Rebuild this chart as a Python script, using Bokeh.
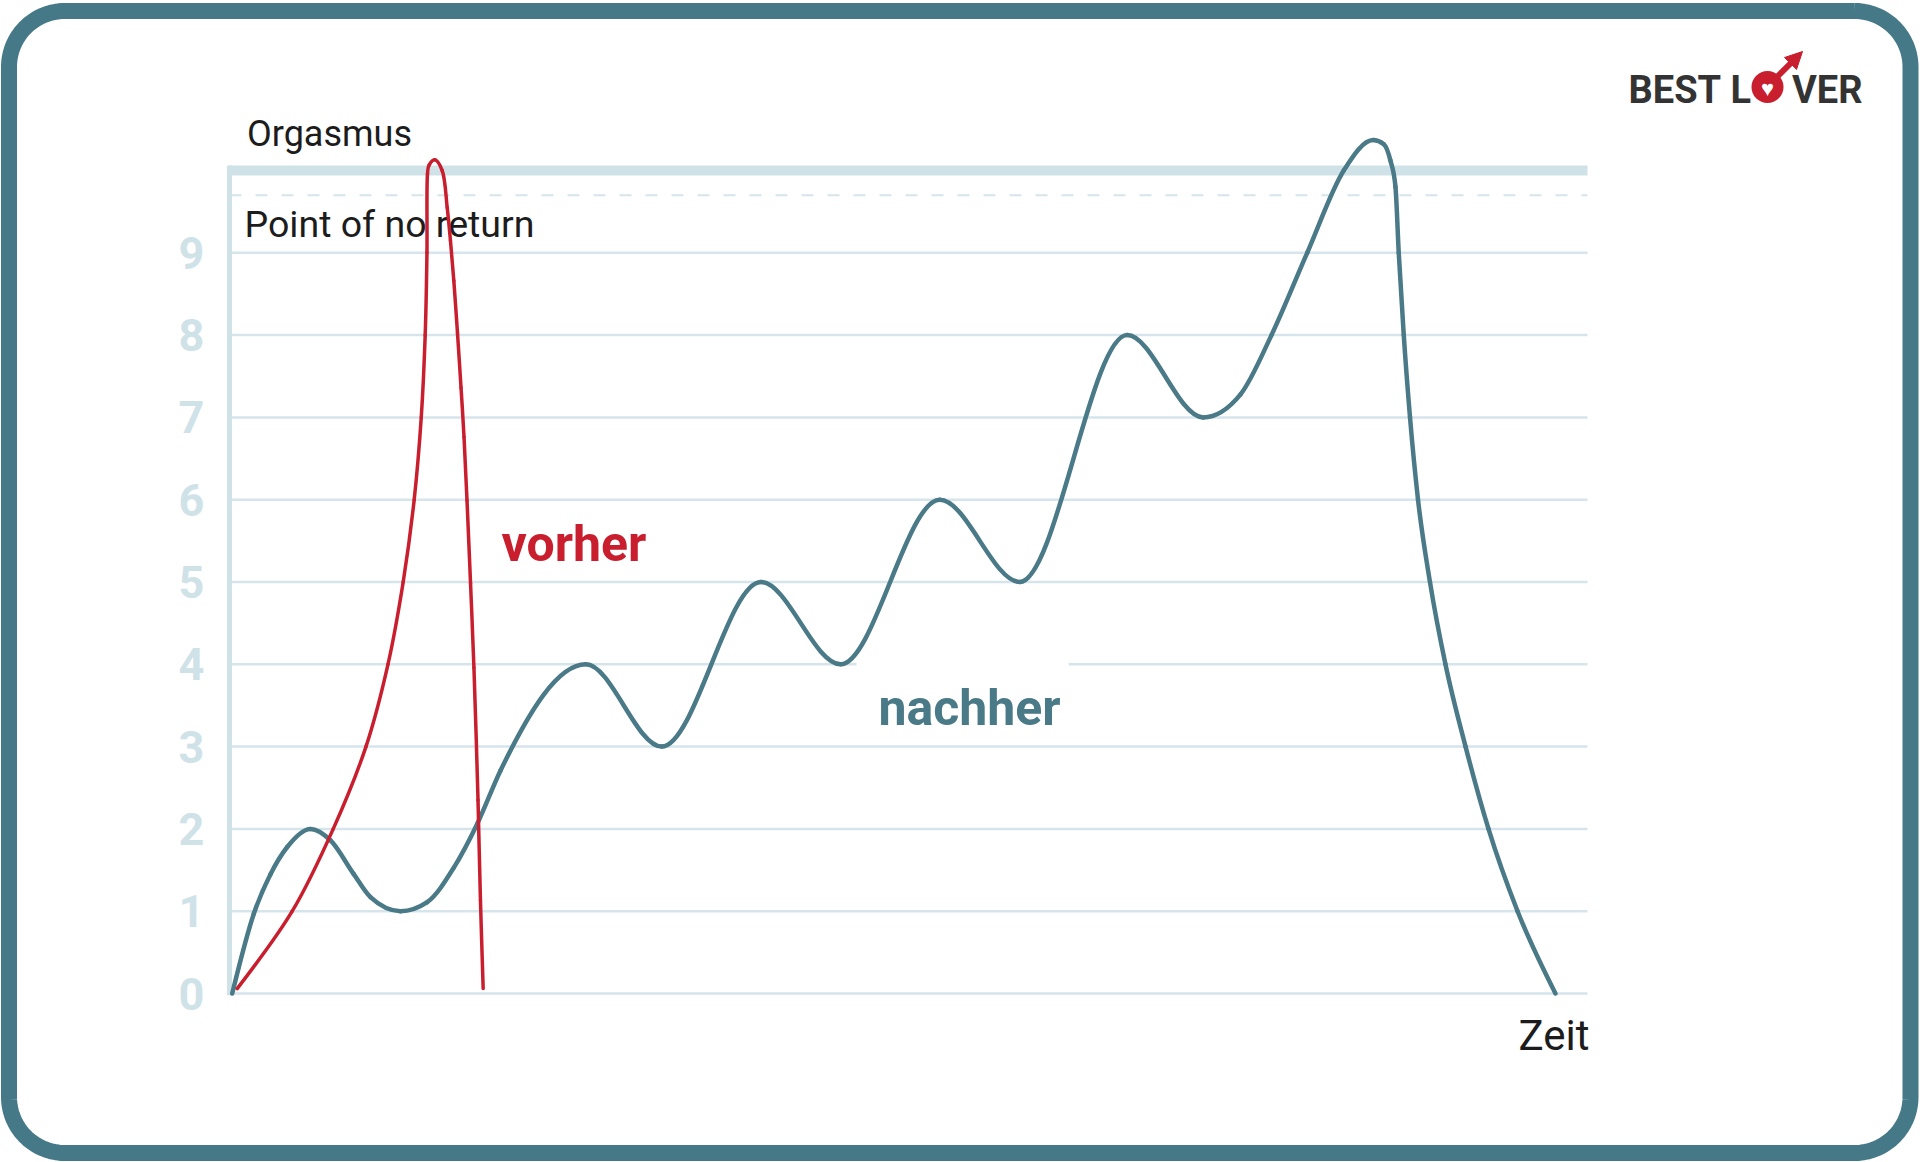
import numpy as np
from bokeh.plotting import figure
from bokeh.models import Range1d, Label, ColumnDataSource, Arrow, NormalHead
from bokeh.core.properties import value
from bokeh.embed import file_html
from bokeh.resources import INLINE

# ---------------- data ----------------
y_ticks = [0, 1, 2, 3, 4, 5, 6, 7, 8, 9]
y_tick_labels = [str(v) for v in y_ticks]
orgasmus_level = 10.0
point_of_no_return_level = 9.7
zeit_max = 100.0

# "nachher" (after) curve: time (0..100) vs arousal
nachher_x = [0.2, 1.79, 3.02, 4.25, 5.96, 7.44, 9.15, 10.38, 12.59, 14.56, 16.52, 18.24, 19.96,
             26.24, 31.83, 39.13, 45.0, 52.3, 58.2, 66.1, 71.7,
             74.45, 76.73, 79.36, 82.05, 84.22,
             85.0, 85.49, 85.86, 86.1, 86.47, 86.93, 87.52, 88.4, 89.54, 91.02, 92.71, 94.85, 97.64]
nachher_y = [0.0, 0.97, 1.45, 1.78, 2.0, 1.86, 1.45, 1.17, 1.0, 1.11, 1.53, 2.06, 2.71,
             4.0, 3.0, 5.0, 4.0, 6.0, 5.0, 8.0, 7.0,
             7.28, 8.0, 9.0, 10.0, 10.37,
             10.32, 10.12, 9.8, 9.0, 8.0, 7.0, 6.0, 5.0, 4.0, 3.0, 2.0, 1.0, 0.0]

# "vorher" (before) curve
vorher_x = [0.57, 4.62, 7.64, 10.05, 11.67, 12.79, 13.6, 14.12, 14.41, 14.54, 14.58,
            14.68, 15.12, 15.66, 16.03, 16.27, 16.52, 16.79, 17.05, 17.27, 17.49, 17.75, 18.0,
            18.3, 18.48, 18.68]
vorher_y = [0.06, 1.0, 2.0, 3.0, 4.0, 5.0, 6.0, 7.0, 8.0, 9.0, 9.96,
            10.06, 10.13, 10.0, 9.55, 9.15, 8.66, 8.02, 7.36, 6.76, 5.99, 4.98, 3.96,
            2.35, 1.13, 0.06]

# ---------------- styling / layout ----------------
W, H = 1920, 1162
PX_PER_X = 13.58
PX_PER_Y = 82.3
X0_PAGE, Y0_PAGE = 229, 993
BASELINE_SHIFT = 0.36   # label placement correction (fraction of font size)

TEAL = "#4a7987"
BORDER = "#467988"
RED = "#c81e2d"
GRID = "#d5e5eb"
AXIS = "#cfe2e8"
TEXT = "#1c1c1c"
LOGO = "#333333"
FONT = "Roboto"


def dx(page_x):
    return (page_x - X0_PAGE) / PX_PER_X


def dy(page_y):
    return (Y0_PAGE - page_y) / PX_PER_Y


def monotone_bezier(xs, ys):
    xs = np.asarray(xs, float)
    ys = np.asarray(ys, float)
    h = np.diff(xs)
    s = np.diff(ys) / h
    m = np.zeros(len(xs))
    for i in range(1, len(xs) - 1):
        pp = (s[i - 1] * h[i] + s[i] * h[i - 1]) / (h[i - 1] + h[i])
        m[i] = (np.sign(s[i - 1]) + np.sign(s[i])) * min(abs(s[i - 1]), abs(s[i]), 0.5 * abs(pp))
    m[0] = (3 * s[0] - m[1]) / 2
    m[-1] = (3 * s[-1] - m[-2]) / 2
    d = h / 3
    return dict(x0=xs[:-1], y0=ys[:-1], x1=xs[1:], y1=ys[1:],
                cx0=xs[:-1] + d, cy0=ys[:-1] + d * m[:-1],
                cx1=xs[1:] - d, cy1=ys[1:] - d * m[1:])


def catmull_bezier(xs, ys, sx, sy, alpha=0.5):
    P = np.column_stack([np.asarray(xs, float) * sx, np.asarray(ys, float) * sy])
    E = np.vstack([P[0], P, P[-1]])
    out = {k: [] for k in ("x0", "y0", "x1", "y1", "cx0", "cy0", "cx1", "cy1")}
    for i in range(len(P) - 1):
        p0, p1, p2, p3 = E[i], E[i + 1], E[i + 2], E[i + 3]
        l01 = np.hypot(*(p1 - p0))
        l12 = np.hypot(*(p2 - p1))
        l23 = np.hypot(*(p3 - p2))
        a01, a12, a23 = l01 ** alpha, l12 ** alpha, l23 ** alpha
        c1 = p1.copy()
        c2 = p2.copy()
        if l01 > 1e-9:
            a = 2 * a01 ** 2 + 3 * a01 * a12 + a12 ** 2
            n = 3 * a01 * (a01 + a12)
            c1 = (p1 * a - p0 * a12 ** 2 + p2 * a01 ** 2) / n
        if l23 > 1e-9:
            b = 2 * a23 ** 2 + 3 * a23 * a12 + a12 ** 2
            mm = 3 * a23 * (a23 + a12)
            c2 = (p2 * b + p1 * a23 ** 2 - p3 * a12 ** 2) / mm
        out["x0"].append(p1[0] / sx); out["y0"].append(p1[1] / sy)
        out["x1"].append(p2[0] / sx); out["y1"].append(p2[1] / sy)
        out["cx0"].append(c1[0] / sx); out["cy0"].append(c1[1] / sy)
        out["cx1"].append(c2[0] / sx); out["cy1"].append(c2[1] / sy)
    return out


p = figure(width=W, height=H,
           x_range=Range1d(dx(0), dx(W)), y_range=Range1d(dy(H), dy(0)),
           output_backend="svg", toolbar_location=None,
           x_axis_location=None, y_axis_location=None, min_border=0)
p.outline_line_color = None
p.background_fill_color = "white"
p.border_fill_color = "white"
p.grid.visible = False

# frame border (rounded rectangle)
def rounded_rect(l, t, r, b, rad, n=30):
    xs, ys = [], []
    for cx, cy, a0, a1 in [(r - rad, t + rad, -90, 0), (r - rad, b - rad, 0, 90),
                           (l + rad, b - rad, 90, 180), (l + rad, t + rad, 180, 270)]:
        th = np.radians(np.linspace(a0, a1, n))
        xs.extend(cx + rad * np.cos(th))
        ys.extend(cy + rad * np.sin(th))
    xs.append(xs[0]); ys.append(ys[0])
    return [dx(v) for v in xs], [dy(v) for v in ys]

bx, by = rounded_rect(8.5, 10.5, 1910, 1152.5, 56)
p.line(bx, by, line_color=BORDER, line_width=16, line_join="round")

# grid lines
grid_src = ColumnDataSource(dict(y=y_ticks, label=y_tick_labels))
p.segment(x0=0, x1=zeit_max, y0="y", y1="y", source=grid_src,
          line_color=GRID, line_width=2.5, level="image")
p.segment(x0=[0], x1=[zeit_max], y0=[point_of_no_return_level], y1=[point_of_no_return_level],
          line_color=GRID, line_width=2, line_dash="12 14", level="image")
p.segment(x0=[0], x1=[zeit_max], y0=[orgasmus_level], y1=[orgasmus_level],
          line_color=AXIS, line_width=10, level="image")
p.segment(x0=[0], x1=[0], y0=[-0.02], y1=[orgasmus_level + 0.06],
          line_color=AXIS, line_width=5, level="image")

# y tick labels
p.text(x=dx(191), y="y", text="label", source=grid_src,
       text_font=value(FONT), text_font_size="45px", text_font_style="bold",
       text_color=AXIS, text_align="center", text_baseline="middle", level="image")

# curves
p.bezier(x0="x0", y0="y0", x1="x1", y1="y1", cx0="cx0", cy0="cy0", cx1="cx1", cy1="cy1",
         source=ColumnDataSource(monotone_bezier(nachher_x, nachher_y)),
         line_color=TEAL, line_width=4.5, line_cap="round")
p.bezier(x0="x0", y0="y0", x1="x1", y1="y1", cx0="cx0", cy0="cy0", cx1="cx1", cy1="cy1",
         source=ColumnDataSource(catmull_bezier(vorher_x, vorher_y, PX_PER_X, PX_PER_Y)),
         line_color=RED, line_width=3.5, line_cap="round")

# texts
def add_label(x_page, base_page, fs, **kw):
    base = dict(text_font=FONT, text_baseline="alphabetic", level="underlay",
                text_font_size=f"{fs}px")
    base.update(kw)
    p.add_layout(Label(x=dx(x_page), y=dy(base_page - BASELINE_SHIFT * fs), **base))

add_label(246.5, 146.7, 36, text="Orgasmus", text_color=TEXT)
add_label(244, 236.7, 37.5, text="Point of no return", text_color=TEXT)
add_label(1589, 1050, 42, text="Zeit", text_color=TEXT, text_align="right")
add_label(501, 561.7, 50, text="vorher", text_font_style="bold", text_color=RED)
# white label box (padding order: left, right, top, bottom)
p.add_layout(Label(x=dx(856), y=dy(662), text="nachher", text_font=FONT, text_font_size="50px",
                   text_font_style="bold", text_color=TEAL, text_baseline="top",
                   background_fill_color="white", padding=(22, 8, 16, 4), level="underlay"))

# logo
add_label(1628, 103, 38, text="BEST", text_font_style="bold", text_color=LOGO, level="annotation")
add_label(1730, 103, 38, text="L", text_font_style="bold", text_color=LOGO, level="annotation")
add_label(1862, 103, 38, text="VER", text_font_style="bold", text_color=LOGO, text_align="right",
          level="annotation")
p.add_layout(Arrow(end=NormalHead(size=17, fill_color=RED, line_color=RED),
                   x_start=dx(1776), y_start=dy(77), x_end=dx(1802), y_end=dy(51),
                   line_color=RED, line_width=6))
p.scatter(x=[dx(1767)], y=[dy(86.5)], size=32, marker="circle", fill_color=RED, line_color=None)
p.add_layout(Label(x=dx(1767), y=dy(87.5), text="♥", text_font=FONT, text_font_size="22px",
                   text_color="white", text_align="center", text_baseline="middle"))

open("out.html", "w").write(file_html(p, INLINE))
